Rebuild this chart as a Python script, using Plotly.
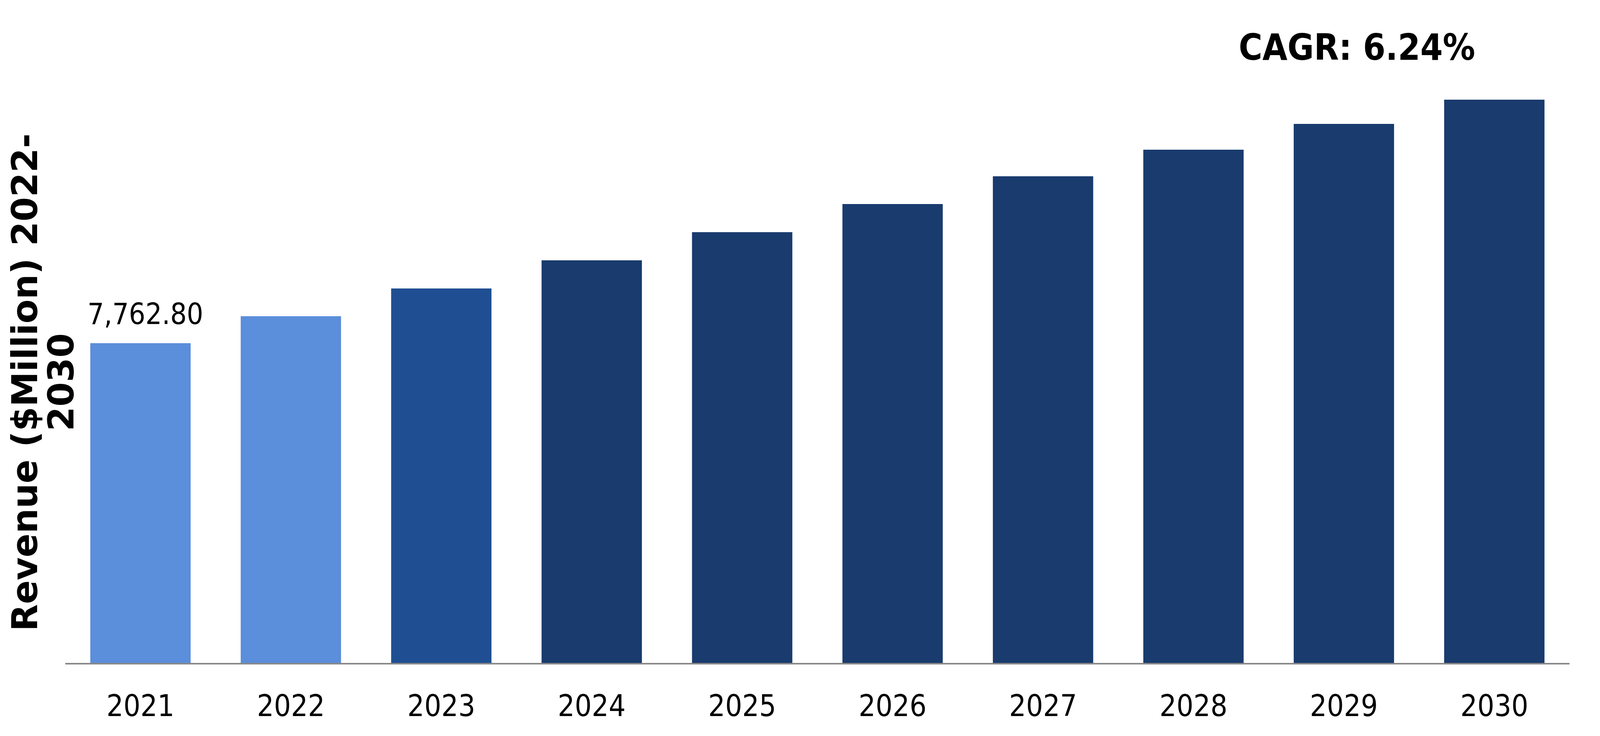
import plotly.graph_objects as go

# values ($Million)
years = ["2021", "2022", "2023", "2024", "2025", "2026", "2027", "2028", "2029", "2030"]
revenue = [7762.8, 8418, 9091, 9775, 10458, 11141, 11815, 12460, 13087, 13675]
bar_colors = ["#5B8EDB", "#5B8EDB", "#1F4F92", "#193B6E", "#193B6E",
              "#193B6E", "#193B6E", "#193B6E", "#193B6E", "#193B6E"]
first_label = "7,762.80"
cagr_text = "CAGR: 6.24%"
y_title_lines = ["Revenue ($Million) 2022-", "2030"]

FONT = "DejaVu Sans Condensed, DejaVu Sans"

fig = go.Figure(
    go.Bar(
        x=years,
        y=revenue,
        width=0.667,
        marker=dict(color=bar_colors, line=dict(width=0)),
        hoverinfo="skip",
    )
)

# value label on the first bar only (x given as category index)
fig.add_annotation(
    x=0, y=revenue[0], xref="x", yref="y",
    text=first_label, showarrow=False,
    xanchor="center", yanchor="bottom", xshift=12, yshift=30,
    font=dict(family=FONT, size=74, color="black"),
)

# CAGR callout above the last bars
fig.add_annotation(
    x=0.8588, y=1.0528, xref="paper", yref="paper",
    text="<b>" + cagr_text + "</b>", showarrow=False,
    xanchor="center", yanchor="middle",
    font=dict(family=FONT, size=92, color="black"),
)

# rotated y title, one annotation per line
for line, shift in zip(y_title_lines, [-103, -10]):
    fig.add_annotation(
        x=0, y=0.48, xref="paper", yref="paper",
        text="<b>" + line + "</b>", showarrow=False, textangle=-90,
        xanchor="center", yanchor="middle", xshift=shift,
        font=dict(family="DejaVu Sans", size=90, color="black"),
    )

fig.update_layout(
    width=4072,
    height=1867,
    autosize=False,
    margin=dict(l=159, r=62, t=192, b=179, autoexpand=False),
    paper_bgcolor="white",
    plot_bgcolor="white",
    showlegend=False,
    hovermode=False,
    xaxis=dict(
        type="category",
        range=[-0.5, 9.5],
        autorange=False,
        showline=True,
        linecolor="#888888",
        linewidth=4,
        showgrid=False,
        ticks="outside",
        ticklen=41,
        tickcolor="white",
        tickfont=dict(family=FONT, size=76, color="black"),
    ),
    yaxis=dict(
        range=[0, 14197],
        autorange=False,
        showgrid=False,
        showline=False,
        zeroline=False,
        showticklabels=False,
        ticks="",
    ),
)

fig.write_html("out.html")
